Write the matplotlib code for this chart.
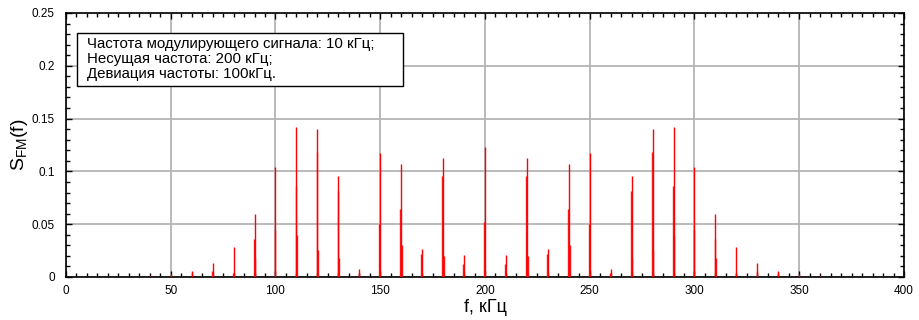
import matplotlib
matplotlib.use("Agg")
import matplotlib.pyplot as plt
from matplotlib.ticker import MultipleLocator
from matplotlib.patches import Rectangle

plt.rcParams['font.family'] = ['Liberation Sans', 'DejaVu Sans']

# Spectral line positions (kHz)
peak_freqs = [40, 50, 60, 70, 80, 90, 100, 110, 120, 130, 140, 150, 160, 170, 180, 190,
              200, 210, 220, 230, 240, 250, 260, 270, 280, 290, 300, 310, 320, 330, 340, 350, 360]
# Main sample height of each spectral line
main_vals = [0.001, 0.003, 0.0057, 0.013, 0.0281, 0.0597, 0.104, 0.1418, 0.1398, 0.0956, 0.0078,
             0.1177, 0.1067, 0.0262, 0.1125, 0.0208, 0.1234, 0.0208, 0.1125, 0.0262, 0.1067,
             0.1177, 0.0078, 0.0956, 0.1398, 0.1418, 0.104, 0.0597, 0.0281, 0.013, 0.0057, 0.003, 0.001]
# Neighbouring (leakage) sample heights
second_vals = [0.0, 0.0, 0.0, 0.006, 0.004, 0.036, 0.0445, 0.086, 0.1187, 0.081, 0.004,
               0.050, 0.0644, 0.022, 0.0956, 0.012, 0.0524, 0.012, 0.0956, 0.022, 0.0644,
               0.050, 0.004, 0.081, 0.1187, 0.086, 0.0445, 0.036, 0.004, 0.006, 0.0, 0.0, 0.0]
third_vals = [0.0, 0.0, 0.0, 0.0, 0.0, 0.0177, 0.0, 0.040, 0.0256, 0.0177, 0.0,
              0.0, 0.030, 0.0, 0.020, 0.0, 0.0, 0.0, 0.020, 0.0, 0.030,
              0.0, 0.0, 0.0177, 0.0256, 0.040, 0.0, 0.0177, 0.0, 0.0, 0.0, 0.0, 0.0]

info_lines = ["Частота модулирующего сигнала: 10 кГц;",
              "Несущая частота: 200 кГц;",
              "Девиация частоты: 100кГц."]

fig = plt.figure(figsize=(9.2, 3.2), dpi=100)
ax = fig.add_axes([0.0717, 0.1344, 0.9109, 0.825])

red = '#ff0000'
ax.vlines([f - 0.35 for f in peak_freqs], 0, second_vals, color=red, lw=1.0, alpha=0.9, zorder=3)
ax.vlines([f + 0.35 for f in peak_freqs], 0, third_vals, color=red, lw=1.0, alpha=0.9, zorder=3)
ax.vlines(peak_freqs, 0, main_vals, color=red, lw=1.0, zorder=4)

ax.set_xlim(0, 400)
ax.set_ylim(0, 0.25)
ax.xaxis.set_major_locator(MultipleLocator(50))
ax.xaxis.set_minor_locator(MultipleLocator(5))
ax.yaxis.set_minor_locator(MultipleLocator(0.01))
ax.set_yticks([0, 0.05, 0.1, 0.15, 0.2, 0.25])
ax.set_yticklabels(['0', '0.05', '0.1', '0.15', '0.2', '0.25'])
ax.tick_params(which='both', direction='in', top=True, right=True, labelsize=8.5, width=1.0)
ax.tick_params(which='major', length=4.5)
ax.tick_params(which='minor', length=3)
ax.tick_params(axis='y', which='major', pad=8)
ax.tick_params(axis='x', which='major', pad=6)
ax.grid(True, which='major', color='#b4b4b4', lw=1.3, zorder=0)
ax.set_axisbelow(True)
for s in ax.spines.values():
    s.set_linewidth(1.2)

ax.set_xlabel('f, кГц', fontsize=13, labelpad=1)
ax.set_ylabel(r'$\mathregular{S_{FM}(f)}$', fontsize=14, labelpad=1.5)

# Annotation box
ax.add_patch(Rectangle((0.0131, 0.7235), 0.389, 0.2008, transform=ax.transAxes,
                       facecolor='white', edgecolor='black', lw=1.0, zorder=6))
for txt, yb in zip(info_lines, [0.8674, 0.8106, 0.7538]):
    ax.text(0.025, yb, txt, transform=ax.transAxes, fontsize=10.8,
            va='baseline', ha='left', zorder=7)

fig.savefig('out.png', dpi=100)
